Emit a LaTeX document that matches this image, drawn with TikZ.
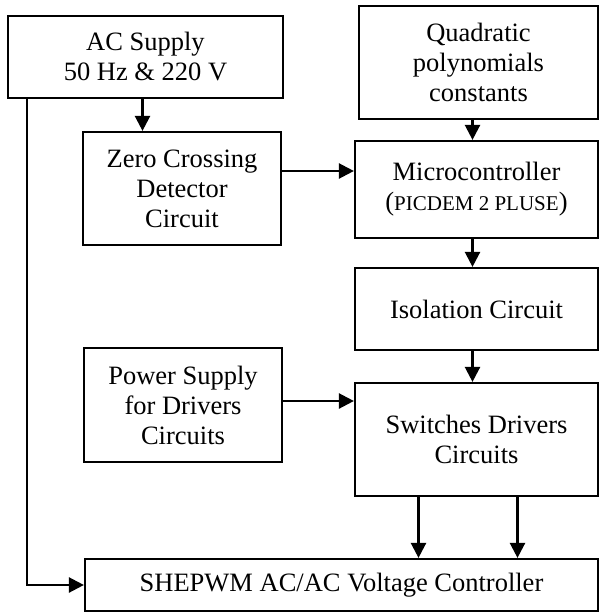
\documentclass[tikz,border=0pt]{standalone}
\usepackage{fontspec}
\setmainfont{Liberation Serif}
\usetikzlibrary{positioning,arrows.meta}

\begin{document}
\begin{tikzpicture}[x=1pt,y=-1pt,
  block/.style={draw,line width=2.2pt,align=center,inner sep=0pt,
    font=\fontsize{26.5}{30}\selectfont},
  arr/.style={line width=2.4pt,-{Triangle[length=15pt,width=15pt]}}]
  \useasboundingbox (0,0) rectangle (599,612);

  % Blocks
  \node[block,minimum width=275pt,minimum height=82pt] (ac) at (145.5,57)
    {AC Supply\\50 Hz \& 220 V};
  \node[block,minimum width=239pt,minimum height=113pt] (quad) at (478.5,62.5)
    {Quadratic\\polynomials\\constants};
  \node[block,minimum width=198pt,minimum height=113pt] (zcd) at (182,188.5)
    {Zero Crossing\\Detector\\Circuit};
  \node[block,minimum width=243pt,minimum height=97pt] (mcu) at (476.5,189.5)
    {Microcontroller\\({\fontsize{21}{30}\selectfont PICDEM 2 PLUSE})};
  \node[block,minimum width=243pt,minimum height=82pt] (iso) at (476.5,309)
    {Isolation Circuit};
  \node[block,minimum width=198pt,minimum height=114pt] (psd) at (183,405)
    {Power Supply\\for Drivers\\Circuits};
  \node[block,minimum width=243pt,minimum height=113pt] (sdc) at (476.5,439.5)
    {Switches Drivers\\Circuits};
  \node[block,minimum width=513pt,minimum height=52pt] (ctrl) at (341.5,585)
    {SHEPWM AC/AC Voltage Controller};

  % Connectors
  \draw[arr] ([xshift=-3pt]ac.south) -- ([xshift=-3pt]ac.south |- zcd.north);
  \draw[arr] ([yshift=17.5pt]zcd.east) -- ([yshift=17.5pt]zcd.east -| mcu.west);
  \draw[arr] ([xshift=-4pt]mcu.north |- quad.south) -- ([xshift=-4pt]mcu.north);
  \draw[arr] ([xshift=-4pt]mcu.south) -- ([xshift=-4pt]iso.north);
  \draw[arr] ([xshift=-4pt]iso.south) -- ([xshift=-4pt]sdc.north);
  \draw[arr] ([yshift=4pt]psd.east) -- ([yshift=4pt]psd.east -| sdc.west);
  \draw[arr] ([xshift=-58pt]sdc.south) -- ([xshift=-58pt]sdc.south |- ctrl.north);
  \draw[arr] ([xshift=41pt]sdc.south) -- ([xshift=41pt]sdc.south |- ctrl.north);
  \draw[arr] ([xshift=20pt]ac.south west) |- (ctrl.west);
\end{tikzpicture}
\end{document}
